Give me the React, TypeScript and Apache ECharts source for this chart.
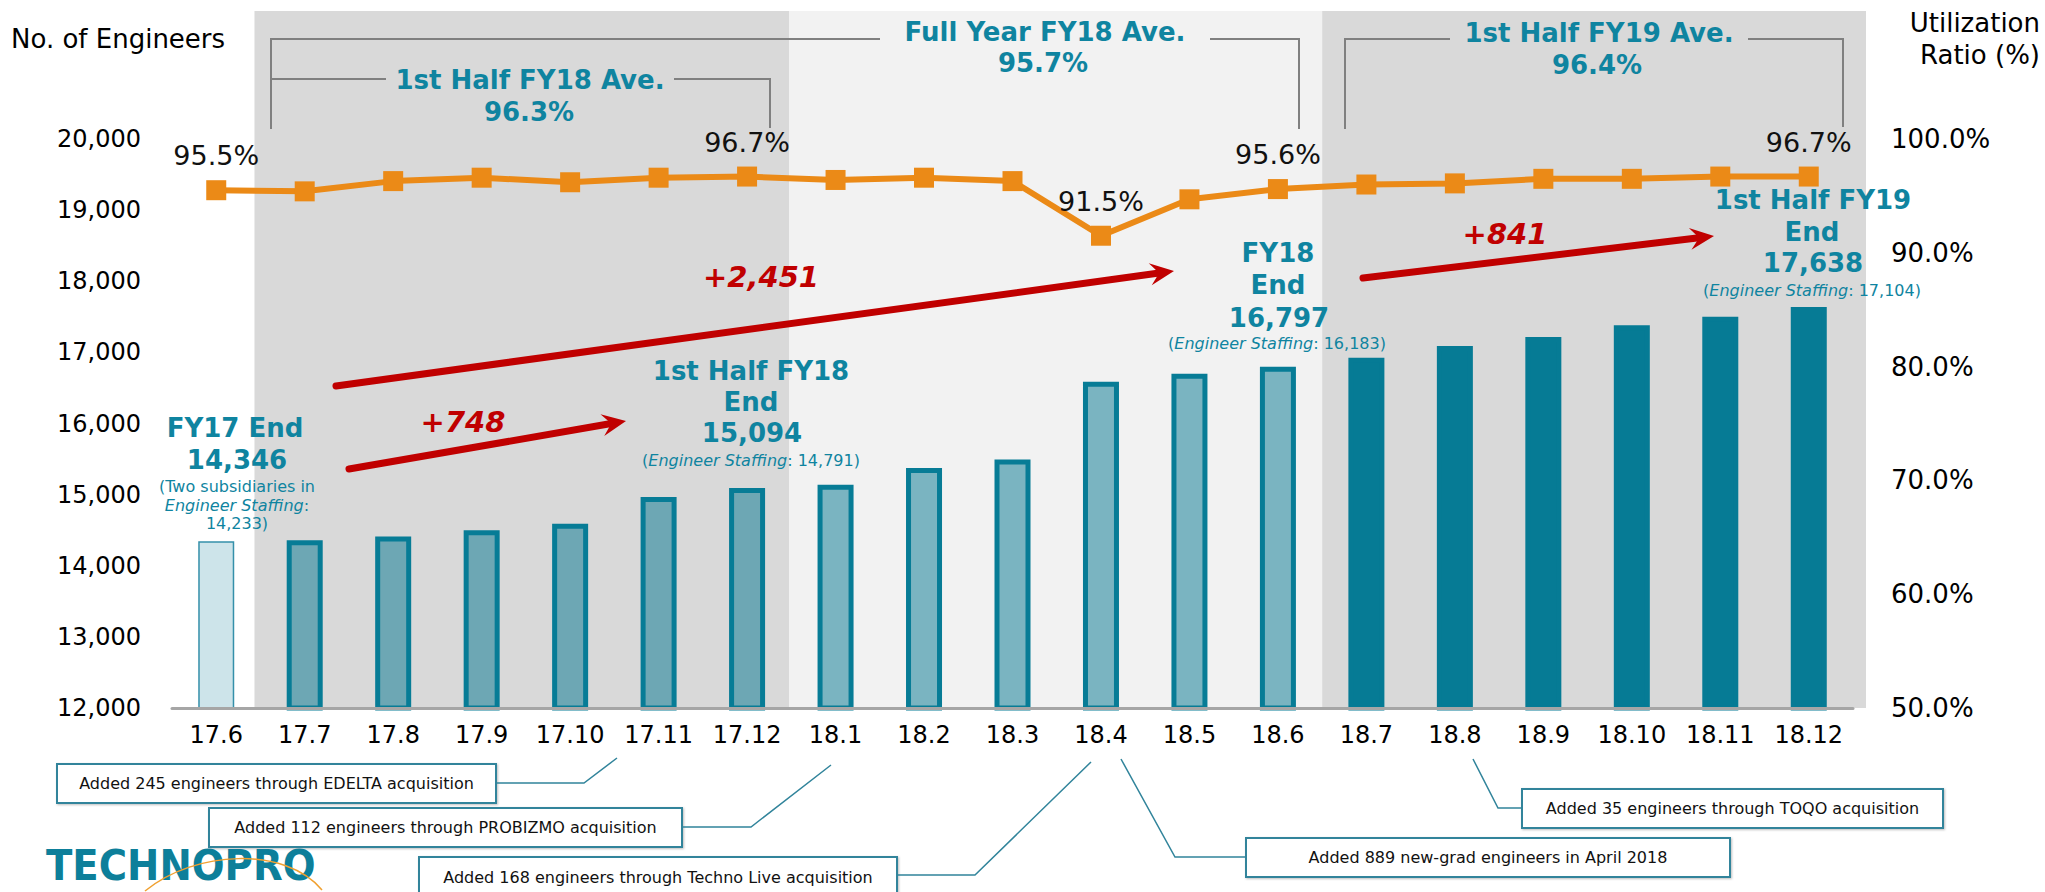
import React, { useEffect, useRef } from 'react';
import * as echarts from 'echarts';

const categories = ['17.6', '17.7', '17.8', '17.9', '17.10', '17.11', '17.12', '18.1', '18.2', '18.3', '18.4', '18.5', '18.6', '18.7', '18.8', '18.9', '18.10', '18.11', '18.12'];
const engineers = [14346, 14357, 14413, 14498, 14591, 14967, 15094, 15140, 15376, 15493, 16587, 16699, 16797, 16925, 17089, 17216, 17380, 17502, 17638];
const utilization = [95.5, 95.4, 96.3, 96.6, 96.2, 96.6, 96.7, 96.4, 96.6, 96.3, 91.5, 94.7, 95.6, 96.0, 96.1, 96.5, 96.5, 96.7, 96.7];
const labeledMonths = ['17.6', '17.12', '18.4', '18.6', '18.12'];
const barGroups = ['fy17', 'h1fy18', 'h1fy18', 'h1fy18', 'h1fy18', 'h1fy18', 'h1fy18', 'h2fy18', 'h2fy18', 'h2fy18', 'h2fy18', 'h2fy18', 'h2fy18', 'h1fy19', 'h1fy19', 'h1fy19', 'h1fy19', 'h1fy19', 'h1fy19'];
const engineerAxis = { min: 12000, max: 20000, interval: 1000 };
const ratioAxis = { min: 50, max: 100, interval: 10 };
const periods = [
  { from: '17.7', to: '17.12', color: '#d9d9d9', padL: 6, padR: -2 },
  { from: '18.1', to: '18.6', color: '#f2f2f2', padL: 2, padR: 0 },
  { from: '18.7', to: '18.12', color: '#d9d9d9', padL: 0, padR: 13 },
];

const FONT = '"DejaVu Sans", Verdana, sans-serif';
const TEAL = '#0f84a0';
const RED = '#c00000';
const ORANGE = '#eb8a17';
const BRACKET = '#808080';
const BOX = '#31849b';

const barStyles: Record<string, any> = {
  fy17: { color: '#cde4ea', borderColor: '#3590aa', borderWidth: 1.5 },
  h1fy18: { color: '#6da7b4', borderColor: '#077c96', borderWidth: 5 },
  h2fy18: { color: '#7ab4c1', borderColor: '#077c96', borderWidth: 5 },
  h1fy19: { color: '#067b95', borderColor: '#067b95', borderWidth: 5 },
};

function txt(text: string, x: number, y: number, o: any = {}) {
  return {
    type: 'text',
    z: 100,
    style: {
      text,
      x,
      y,
      fill: o.fill || '#000',
      fontFamily: FONT,
      fontSize: o.size || 16,
      fontWeight: o.weight || 'normal',
      fontStyle: o.style || 'normal',
      align: o.align || 'center',
      verticalAlign: 'middle',
      rich: o.rich,
    },
  };
}

function staff(text: string, x: number, y: number) {
  return txt(text, x, y, {
    fill: TEAL,
    size: 16,
    rich: { i: { fontStyle: 'italic', fontSize: 16, fontFamily: FONT, fill: TEAL } },
  });
}

function bold(text: string, x: number, y: number) {
  return txt(text, x, y, { fill: TEAL, size: 26, weight: 'bold' });
}

function red(text: string, x: number, y: number) {
  return txt(text, x, y, { fill: RED, size: 29, weight: 'bold', style: 'italic' });
}

function poly(points: number[][], stroke: string, w: number) {
  return { type: 'polyline', z: 100, shape: { points }, style: { stroke, lineWidth: w, fill: null } };
}

function arrow(x1: number, y1: number, x2: number, y2: number) {
  const dx = x2 - x1, dy = y2 - y1, L = Math.hypot(dx, dy);
  const ux = dx / L, uy = dy / L, px = -uy, py = ux;
  const head = 24, hw = 11, notch = 9;
  const bx = x2 - ux * head, by = y2 - uy * head;
  const nx = x2 - ux * (head - notch), ny = y2 - uy * (head - notch);
  return [
    { type: 'line', z: 100, shape: { x1, y1, x2: nx, y2: ny }, style: { stroke: RED, lineWidth: 7, lineCap: 'round' } },
    { type: 'polygon', z: 100, shape: { points: [[x2, y2], [bx + px * hw, by + py * hw], [nx, ny], [bx - px * hw, by - py * hw]] }, style: { fill: RED } },
  ];
}

function callout(text: string, x: number, y: number, w: number, h: number, leader: number[][]) {
  return [
    { type: 'rect', z: 100, shape: { x, y, width: w, height: h }, style: { fill: '#fff', stroke: BOX, lineWidth: 2, shadowColor: 'rgba(0,0,0,0.25)', shadowBlur: 2, shadowOffsetX: 1, shadowOffsetY: 1 } },
    txt(text, x + w / 2, y + h / 2, { size: 16, fill: '#111' }),
    poly(leader, BOX, 1.5),
  ];
}

export default function App() {
  const ref = useRef<HTMLDivElement>(null);
  useEffect(() => {
    if (!ref.current) return;
    const chart = echarts.init(ref.current, null, { renderer: 'svg' });
    const option: any = {
      animation: false,
      textStyle: { fontFamily: FONT },
      grid: { left: 172, right: 192, top: 139, bottom: 184, containLabel: false },
      xAxis: {
        type: 'category',
        data: categories,
        axisLine: { show: true, lineStyle: { color: '#a6a6a6', width: 3 } },
        axisTick: { show: false },
        axisLabel: { color: '#000', fontSize: 24, fontFamily: FONT, margin: 15, interval: 0 },
        z: 5,
      },
      yAxis: [
        {
          type: 'value',
          min: engineerAxis.min,
          max: engineerAxis.max,
          interval: engineerAxis.interval,
          axisLine: { show: false },
          axisTick: { show: false },
          splitLine: { show: false },
          axisLabel: { color: '#000', fontSize: 24, fontFamily: FONT, margin: 31, formatter: (v: number) => v.toLocaleString('en-US') },
        },
        {
          type: 'value',
          min: ratioAxis.min,
          max: ratioAxis.max,
          interval: ratioAxis.interval,
          axisLine: { show: false },
          axisTick: { show: false },
          splitLine: { show: false },
          axisLabel: { color: '#000', fontSize: 26, fontFamily: FONT, margin: 38, formatter: (v: number) => v.toFixed(1) + '%' },
        },
      ],
      series: [
        {
          type: 'bar',
          yAxisIndex: 0,
          barWidth: 36,
          z: 3,
          data: engineers.map((v, i) => ({ value: v, itemStyle: barStyles[barGroups[i]] })),
        },
        {
          type: 'line',
          yAxisIndex: 1,
          z: 6,
          symbol: 'rect',
          symbolSize: 20,
          lineStyle: { color: ORANGE, width: 6 },
          itemStyle: { color: ORANGE },
          label: {
            show: false,
            position: 'top',
            distance: 11,
            color: '#111',
            fontSize: 27,
            fontFamily: FONT,
            formatter: (p: any) => Number(p.value).toFixed(1) + '%',
          },
          data: utilization.map((v, i) =>
            labeledMonths.includes(categories[i]) ? { value: v, label: { show: true } } : v
          ),
        },
      ],
    };
    chart.setOption(option);

    const xOf = (c: string) => chart.convertToPixel({ xAxisIndex: 0 }, c) as number;
    const step = xOf(categories[1]) - xOf(categories[0]);
    const baseY = chart.convertToPixel({ yAxisIndex: 0 }, engineerAxis.min) as number;
    const bg = periods.map((p) => {
      const x0 = xOf(p.from) - step / 2 - p.padL;
      const x1 = xOf(p.to) + step / 2 + p.padR;
      return { type: 'rect', z: -10, shape: { x: x0, y: 11, width: x1 - x0, height: baseY - 11 }, style: { fill: p.color } };
    });

    const elements: any[] = [
      ...bg,
      // axis titles
      txt('No. of Engineers', 11, 39, { size: 26, align: 'left' }),
      txt('Utilization', 2040, 23, { size: 26, align: 'right' }),
      txt('Ratio (%)', 2040, 55, { size: 26, align: 'right' }),
      // brackets
      poly([[271, 129], [271, 39], [880, 39]], BRACKET, 2),
      poly([[1210, 39], [1299, 39], [1299, 129]], BRACKET, 2),
      poly([[271, 79], [386, 79]], BRACKET, 2),
      poly([[674, 79], [770, 79], [770, 128]], BRACKET, 2),
      poly([[1345, 129], [1345, 39], [1450, 39]], BRACKET, 2),
      poly([[1748, 39], [1843, 39], [1843, 127]], BRACKET, 2),
      bold('1st Half FY18 Ave.', 530, 80),
      bold('96.3%', 529, 112),
      bold('Full Year FY18 Ave.', 1045, 32),
      bold('95.7%', 1043, 63),
      bold('1st Half FY19 Ave.', 1599, 33),
      bold('96.4%', 1597, 65),
      // period-end annotations
      bold('FY17 End', 235, 428),
      bold('14,346', 237, 460),
      staff('(Two subsidiaries in', 237, 486),
      staff('{i|Engineer Staffing}:', 237, 505),
      staff('14,233)', 237, 523),
      bold('1st Half FY18', 751, 371),
      bold('End', 751, 402),
      bold('15,094', 752, 433),
      staff('({i|Engineer Staffing}: 14,791)', 751, 460),
      bold('FY18', 1278, 253),
      bold('End', 1278, 285),
      bold('16,797', 1279, 318),
      staff('({i|Engineer Staffing}: 16,183)', 1277, 343),
      bold('1st Half FY19', 1813, 200),
      bold('End', 1812, 232),
      bold('17,638', 1813, 263),
      staff('({i|Engineer Staffing}: 17,104)', 1812, 290),
      // growth arrows
      red('+748', 463, 422),
      red('+2,451', 761, 277),
      red('+841', 1505, 234),
      ...arrow(349, 469, 626, 421),
      ...arrow(336, 386, 1174, 271),
      ...arrow(1363, 278, 1714, 236),
      // callouts
      ...callout('Added 245 engineers through EDELTA acquisition', 57, 764, 439, 39, [[496, 783], [584, 783], [617, 758]]),
      ...callout('Added 112 engineers through PROBIZMO acquisition', 209, 808, 473, 39, [[682, 827], [751, 827], [831, 765]]),
      ...callout('Added 168 engineers through Techno Live acquisition', 419, 857, 478, 40, [[897, 875], [975, 875], [1091, 762]]),
      ...callout('Added 889 new-grad engineers in April 2018', 1246, 838, 484, 39, [[1121, 759], [1175, 857], [1246, 857]]),
      ...callout('Added 35 engineers through TOQO acquisition', 1522, 789, 421, 39, [[1473, 759], [1498, 808], [1522, 808]]),
      // logo
      {
        type: 'text', z: 100, x: 46, y: 866, scaleX: 0.92,
        style: { text: 'TECHNOPRO', x: 0, y: 0, fill: '#0d7f9a', fontFamily: FONT, fontSize: 42, fontWeight: 'bold', align: 'left', verticalAlign: 'middle' },
      },
      {
        type: 'bezierCurve', z: 101,
        shape: { x1: 145, y1: 891, cpx1: 195, cpy1: 850, cpx2: 285, cpy2: 846, x2: 322, y2: 890 },
        style: { stroke: '#f0a030', lineWidth: 1.5, fill: null },
      },
    ];
    chart.setOption({ graphic: { elements } });
    return () => chart.dispose();
  }, []);
  return <div ref={ref} style={{ position: 'fixed', left: 0, top: 0, width: 2045, height: 892, background: '#fff' }} />;
}
